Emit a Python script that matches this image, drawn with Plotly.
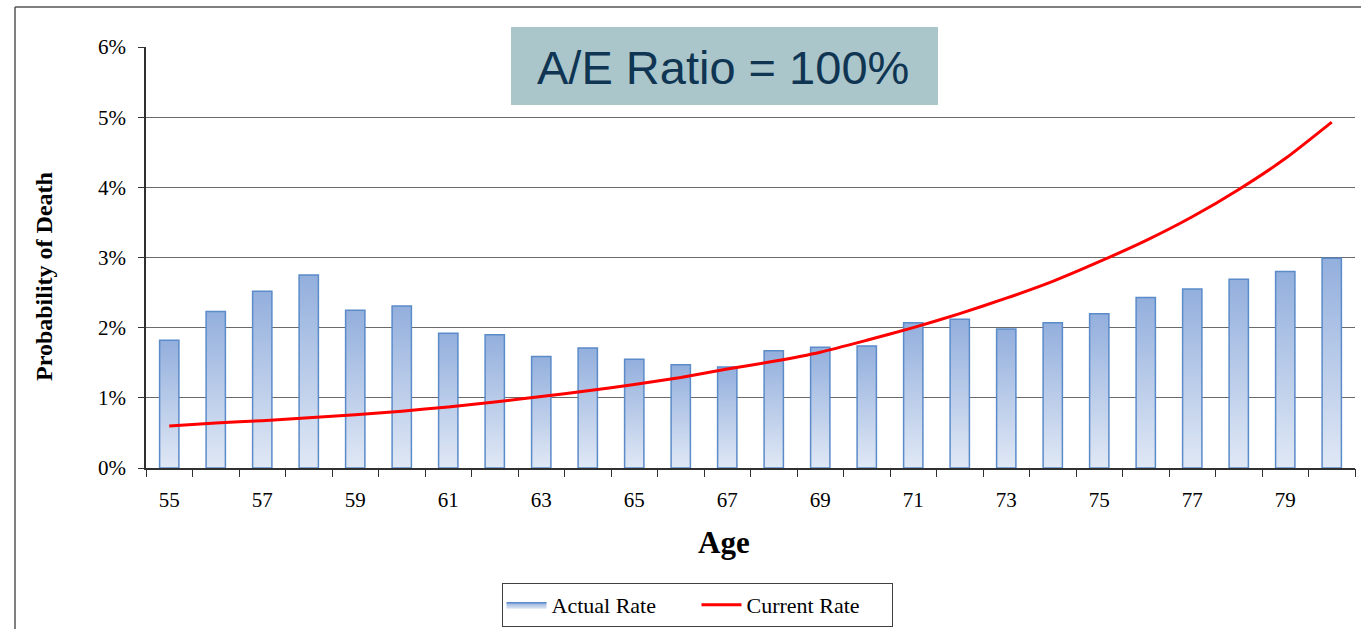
import plotly.graph_objects as go

# Mortality experience by age (probability of death, %)
ages = list(range(55, 81))
actual_rate = [1.82, 2.23, 2.52, 2.75, 2.25, 2.31, 1.92, 1.90, 1.59, 1.71,
               1.55, 1.47, 1.44, 1.67, 1.72, 1.74, 2.07, 2.12, 1.98, 2.07,
               2.20, 2.43, 2.55, 2.69, 2.80, 2.99]
current_rate = [0.60, 0.64, 0.675, 0.715, 0.76, 0.81, 0.87, 0.94, 1.02, 1.10,
                1.19, 1.29, 1.41, 1.52, 1.65, 1.82, 2.00, 2.20, 2.42, 2.66,
                2.94, 3.24, 3.58, 3.97, 4.41, 4.93]
y_ticks = [0, 1, 2, 3, 4, 5, 6]
y_tick_labels = [f"{v}%" for v in y_ticks]
x_label_ages = list(range(55, 80, 2))

W, H = 1361, 629
ML, MR, MT, MB = 146, 6, 47, 161
PW, PH = W - ML - MR, H - MT - MB


def px(x):
    return (x - ML) / PW


def py(y):
    return (H - MB - y) / PH


SERIF = "Liberation Serif, Times New Roman, serif"
BAR_W = 0.415

fig = go.Figure()

# Gradient-filled bars for the actual rate
for i, (a, v) in enumerate(zip(ages, actual_rate)):
    x0, x1 = a - BAR_W / 2, a + BAR_W / 2
    fig.add_trace(go.Scatter(
        x=[x0, x0, x1, x1, x0], y=[0, v, v, 0, 0],
        mode="lines", fill="toself",
        fillgradient=dict(type="vertical",
                          colorscale=[[0, "#e0e8f5"], [1, "#93afdd"]]),
        line=dict(color="#5b8bc9", width=1.5),
        name="Actual Rate", legendgroup="actual",
        showlegend=(i == 0), hoverinfo="skip",
    ))

fig.add_trace(go.Scatter(
    x=ages, y=current_rate, mode="lines", name="Current Rate",
    line=dict(color="#ff0000", width=3, shape="spline", smoothing=0.6),
))

# dummy trace so the secondary x-axis (boundary tick marks) is rendered
fig.add_trace(go.Scatter(x=[ages[0]], y=[None], xaxis="x2", showlegend=False,
                         hoverinfo="skip"))

fig.update_layout(
    width=W, height=H,
    margin=dict(l=ML, r=MR, t=MT, b=MB, autoexpand=False),
    paper_bgcolor="white", plot_bgcolor="white",
    font=dict(family=SERIF, color="black"),
    showlegend=True,
    legend=dict(
        orientation="h", x=px(697), xanchor="center", y=py(583), yanchor="top",
        bordercolor="#404040", borderwidth=1, bgcolor="white",
        font=dict(family=SERIF, size=22, color="black"),
        itemwidth=40, tracegroupgap=0, entrywidth=140,
    ),
    xaxis=dict(
        range=[54.5, 80.5], tickvals=x_label_ages,
        ticktext=[str(a) for a in x_label_ages],
        ticks="", showgrid=False, zeroline=False,
        showline=True, linecolor="#303030", linewidth=1.5,
        tickfont=dict(family=SERIF, size=21, color="black"),
        ticklabelstandoff=12,
    ),
    xaxis2=dict(
        range=[54.5, 80.5], overlaying="x", anchor="y", side="bottom",
        tickvals=[a - 0.5 for a in ages] + [ages[-1] + 0.5],
        ticks="outside", ticklen=8, tickwidth=1.2, tickcolor="#303030",
        showticklabels=False, showgrid=False, zeroline=False, showline=False,
    ),
    yaxis=dict(
        range=[0, 6], tickvals=y_ticks, ticktext=y_tick_labels,
        showgrid=True, gridcolor="#6a6a6a", gridwidth=1,
        zeroline=False, showline=True, linecolor="#303030", linewidth=1.5,
        ticks="outside", ticklen=6, tickcolor="#303030",
        tickfont=dict(family=SERIF, size=21, color="black"),
        ticklabelstandoff=8,
    ),
)

# Outer chart frame (top and left edges)
fig.add_shape(type="line", xref="paper", yref="paper",
              x0=px(15), x1=px(1361), y0=py(7), y1=py(7),
              line=dict(color="#555555", width=1.5))
fig.add_shape(type="line", xref="paper", yref="paper",
              x0=px(15), x1=px(15), y0=py(7), y1=py(629),
              line=dict(color="#555555", width=1.5))

# Highlighted ratio banner
fig.add_shape(type="rect", xref="paper", yref="paper", layer="above",
              x0=px(511), x1=px(938), y0=py(105), y1=py(27),
              fillcolor="#aac6cb", line=dict(width=0))
fig.add_annotation(xref="paper", yref="paper", x=px(723), y=py(67),
                   text="A/E Ratio = 100%", showarrow=False,
                   font=dict(family="Liberation Sans, Arial, sans-serif",
                             size=47, color="#0f3553"),
                   xanchor="center", yanchor="middle")

# Axis titles
fig.add_annotation(xref="paper", yref="paper", x=px(44), y=py(277),
                   text="<b>Probability of Death</b>", textangle=-90,
                   showarrow=False, xanchor="center", yanchor="middle",
                   font=dict(family=SERIF, size=24, color="black"))
fig.add_annotation(xref="paper", yref="paper", x=px(724), y=py(542),
                   text="<b>Age</b>", showarrow=False,
                   xanchor="center", yanchor="middle",
                   font=dict(family=SERIF, size=31, color="black"))

fig.write_html("out.html")
